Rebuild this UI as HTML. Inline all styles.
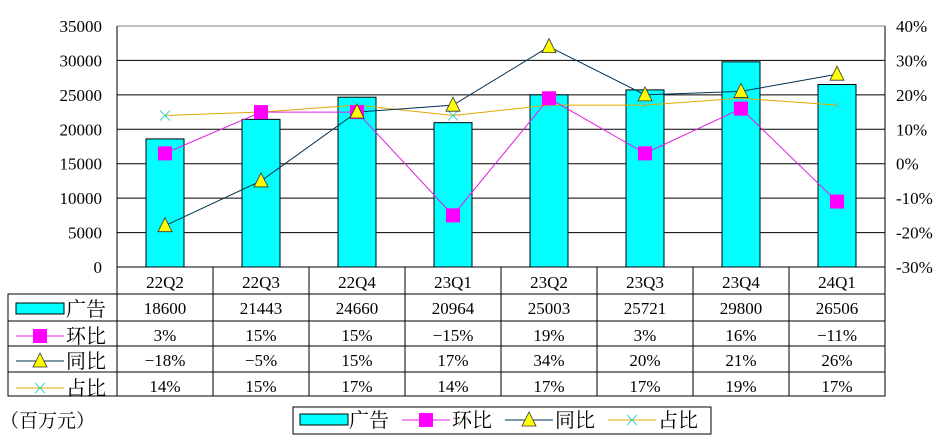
<!DOCTYPE html>
<html><head><meta charset="utf-8"><style>
html,body{margin:0;padding:0;background:#fff;}
svg{display:block;font-family:"Liberation Serif","Noto Serif CJK SC",serif;}
</style></head><body>
<svg id="c" width="950" height="448" xmlns="http://www.w3.org/2000/svg"></svg>
<script>
const categories=["22Q2","22Q3","22Q4","23Q1","23Q2","23Q3","23Q4","24Q1"];
const adRevenue=[18600,21443,24660,20964,25003,25721,29800,26506];
const qoq=[3,15,15,-15,19,3,16,-11];
const yoy=[-18,-5,15,17,34,20,21,26];
const share=[14,15,17,14,17,17,19,17];
const leftTicks=[0,5000,10000,15000,20000,25000,30000,35000];
const rightTicks=[-30,-20,-10,0,10,20,30,40];

const NS="http://www.w3.org/2000/svg";
const svg=document.getElementById('c');
const X0=117,X1=885,Y0=267,Y1=26,CW=(X1-X0)/categories.length;
const yL=v=>Y0-(v/35000)*(Y0-Y1);
const yR=v=>Y0-((v+30)/70)*(Y0-Y1);
const cx=i=>X0+CW*(i+0.5);
function el(t,a,txt){const e=document.createElementNS(NS,t);for(const k in a)e.setAttribute(k,a[k]);if(txt!==undefined)e.textContent=txt;svg.appendChild(e);return e;}

// gridlines
leftTicks.forEach(v=>{
  const g=el('line',{x1:X0,x2:X1,y1:yL(v),y2:yL(v),stroke:v===35000?'#808080':'#000','stroke-width':1});
  
  
  const t=el('text',{x:102,y:yL(v)+6,'text-anchor':'end','font-size':17,fill:'#000'},String(v));
  
  
});
rightTicks.forEach(v=>{
  const t=el('text',{x:896,y:yR(v)+6,'font-size':17,fill:'#000'},v+'%');
  
  
});
const ax1=el('line',{x1:X0,x2:X0,y1:Y1,y2:Y0,stroke:'#000'});


const ax2=el('line',{x1:X1,x2:X1,y1:Y1,y2:Y0,stroke:'#000'});



// bars
adRevenue.forEach((v,i)=>{
  const b=el('rect',{x:cx(i)-19,y:yL(v),width:38,height:Y0-yL(v),fill:'#00FFFF',stroke:'#000','stroke-width':1});
  
  
});
function line(arr,color,name){
  const p=el('polyline',{points:arr.map((v,i)=>cx(i)+','+yR(v)).join(' '),fill:'none',stroke:color,'stroke-width':1});
  
  
}
line(share,'#E0A800','share-line');
share.forEach((v,i)=>{
  const m=el('path',{d:`M${cx(i)-5},${yR(v)-5}L${cx(i)+5},${yR(v)+5}M${cx(i)+5},${yR(v)-5}L${cx(i)-5},${yR(v)+5}`,stroke:'#40D0D0','stroke-width':1});
  
  
});
line(yoy,'#003050','yoy-line');
line(qoq,'#E020E0','qoq-line');
qoq.forEach((v,i)=>{
  const m=el('rect',{x:cx(i)-7,y:yR(v)-7,width:14,height:14,fill:'#FF00FF'});
  
  
});
yoy.forEach((v,i)=>{
  const m=el('polygon',{points:`${cx(i)},${yR(v)-8} ${cx(i)-7},${yR(v)+6} ${cx(i)+7},${yR(v)+6}`,fill:'#FFFF00',stroke:'#333','stroke-width':0.8});
  
  
});

// table
const rows=[294,321,346,372,396];
const hdr=el('rect',{x:X0,y:Y0,width:X1-X0,height:rows[0]-Y0,fill:'none',stroke:'#000'});


const tb=el('rect',{x:8,y:rows[0],width:X1-8,height:rows[4]-rows[0],fill:'none',stroke:'#000'});


rows.slice(1,4).forEach(y=>{const l=el('line',{x1:8,x2:X1,y1:y,y2:y,stroke:'#000'});});
for(let i=0;i<=categories.length;i++){const l=el('line',{x1:X0+CW*i,x2:X0+CW*i,y1:Y0,y2:rows[4],stroke:'#000'});}
categories.forEach((c,i)=>{
  const t=el('text',{x:cx(i),y:288,'text-anchor':'middle','font-size':17},c);
  
  
});
const tableData=[adRevenue.map(String),qoq.map(v=>v+'%'),yoy.map(v=>v+'%'),share.map(v=>v+'%')];
tableData.forEach((r,ri)=>r.forEach((s,i)=>{
  const t=el('text',{x:cx(i),y:rows[ri]+20,'text-anchor':'middle','font-size':17},s.replace('-','−'));
  
  
}));
// row labels with legend keys
function key(type,x,y){
  if(type==0){const r=el('rect',{x:x,y:y-6,width:48,height:11,fill:'#00FFFF',stroke:'#000'});}
  if(type==1){el('line',{x1:x,x2:x+48,y1:y,y2:y,stroke:'#E020E0'});const r=el('rect',{x:x+17,y:y-7,width:14,height:14,fill:'#FF00FF'});}
  if(type==2){el('line',{x1:x,x2:x+48,y1:y,y2:y,stroke:'#003050'});const r=el('polygon',{points:`${x+24},${y-8} ${x+17},${y+6} ${x+31},${y+6}`,fill:'#FFFF00',stroke:'#333','stroke-width':0.8});}
  if(type==3){el('line',{x1:x,x2:x+48,y1:y,y2:y,stroke:'#E0A800'});const r=el('path',{d:`M${x+19},${y-5}L${x+29},${y+5}M${x+29},${y-5}L${x+19},${y+5}`,stroke:'#40D0D0'});}
}
const names=['广告','环比','同比','占比'];
[[309,0],[336,1],[361,2],[388,3]].forEach(([y,t],i)=>{
  key(t,16,y);
  const tx=el('text',{x:66,y:y+7,'font-size':20},names[i]);
  
  
});
const unit=el('text',{x:0,y:427,'font-size':19},'（百万元）');



// legend
const lg=el('rect',{x:293,y:407,width:418,height:27,fill:'#fff',stroke:'#000'});


[[300,0],[402,1],[505,2],[608,3]].forEach(([x,t],i)=>{
  key(t,x,420);
  const tx=el('text',{x:x+ (t==0?49:50),y:427,'font-size':20},names[i]);
  
  
});
</script>
</body></html>
